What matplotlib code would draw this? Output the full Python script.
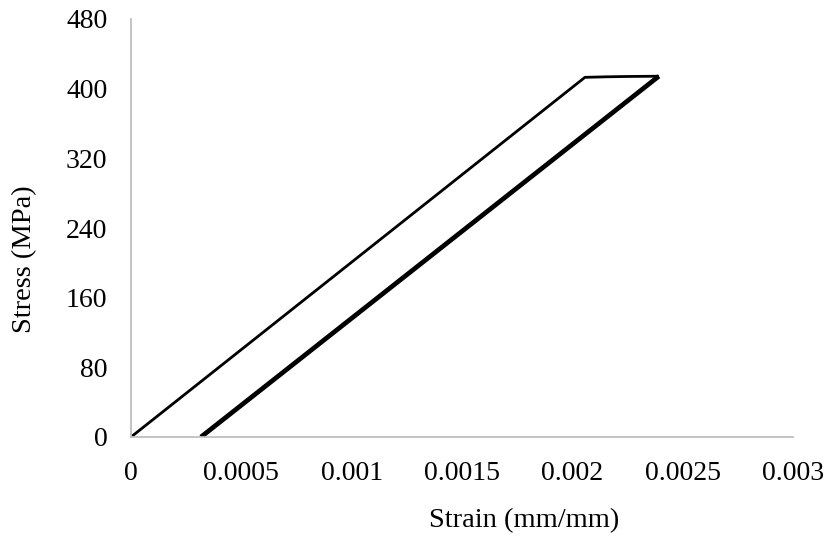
import matplotlib
matplotlib.use("Agg")
import matplotlib.pyplot as plt

# Loading path
load_strain = [0.0, 0.002057, 0.00215, 0.00225, 0.002392]
load_stress = [0.0, 413.0, 413.6, 414.0, 414.3]
# Unloading path
unload_strain = [0.002392, 0.000317]
unload_stress = [414.3, 0.0]

x_ticks = [0, 0.0005, 0.001, 0.0015, 0.002, 0.0025, 0.003]
x_labels = ["0", "0.0005", "0.001", "0.0015", "0.002", "0.0025", "0.003"]
y_ticks = [0, 80, 160, 240, 320, 400, 480]

plt.rcParams['font.family'] = ['Liberation Serif', 'DejaVu Serif']

W, H = 830, 538
fig = plt.figure(figsize=(W / 100, H / 100), dpi=100)
ax = fig.add_axes([131 / W, 1 - 437 / H, (793 - 131) / W, (437 - 19) / H])
ax.plot(load_strain, load_stress, color='black', lw=2.0, solid_capstyle='butt')
ax.plot(unload_strain, unload_stress, color='black', lw=3.4, solid_capstyle='butt')

ax.set_xlim(0, 0.003)
ax.set_ylim(0, 480)
ax.set_xticks(x_ticks)
ax.set_xticklabels(x_labels)
ax.set_yticks(y_ticks)
ax.tick_params(length=0, labelsize=20, colors='black')
ax.tick_params(axis='x', pad=17)
ax.tick_params(axis='y', pad=17)
for s in ['top', 'right']:
    ax.spines[s].set_visible(False)
for s in ['left', 'bottom']:
    ax.spines[s].set_color('#bfbfbf')
    ax.spines[s].set_linewidth(1.3)

fig.text(524 / W, 1 - 521 / H, 'Strain (mm/mm)', fontsize=20.5, ha='center', va='center')
fig.text(25 / W, 1 - 259 / H, 'Stress (MPa)', fontsize=20.5, ha='center', va='center', rotation=90)

fig.savefig('out.png', dpi=100)
